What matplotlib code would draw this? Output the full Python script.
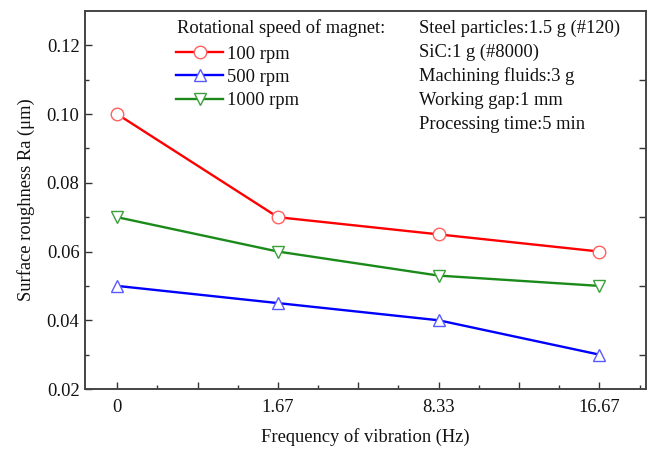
import matplotlib
matplotlib.use("Agg")
import matplotlib.pyplot as plt
from matplotlib.ticker import FixedLocator, NullFormatter

plt.rcParams['font.family'] = ['Liberation Serif', 'DejaVu Serif']

freq_labels = ["0", "1.67", "8.33", "16.67"]
ra_100 = [0.100, 0.070, 0.065, 0.060]
ra_500 = [0.050, 0.045, 0.040, 0.030]
ra_1000 = [0.070, 0.060, 0.053, 0.050]
series_names = ["100 rpm", "500 rpm", "1000 rpm"]
legend_title = "Rotational speed of magnet:"
conditions = ["Steel particles:1.5 g (#120)", "SiC:1 g (#8000)", "Machining fluids:3 g",
              "Working gap:1 mm", "Processing time:5 min"]

FS = 13.3

fig = plt.figure(figsize=(6.51, 4.49), dpi=100)
ax = fig.add_axes([85/651, 1-389/449, (646-85)/651, (389-11)/449])

x = list(range(len(freq_labels)))
styles = [("#ff0000", "#ff6060", "o"), ("#0000ff", "#5a5aff", "^"), ("#1a8a1a", "#3aa03a", "v")]
handles = []
for vals, name, (lc, mc, mk) in zip([ra_100, ra_500, ra_1000], series_names, styles):
    h, = ax.plot(x, vals, color=lc, lw=1.7, marker=mk, markersize=9,
                 markerfacecolor="white", markeredgecolor=mc, markeredgewidth=1.0, label=name)
    handles.append(h)

ax.set_xlim(-0.2, 3.29)
ax.set_ylim(0.02, 0.13)

xmaj = [i * 0.5 for i in range(7)]
ax.xaxis.set_major_locator(FixedLocator(xmaj))
ax.set_xticklabels([freq_labels[int(v)] if float(v).is_integer() else "" for v in xmaj])
ax.xaxis.set_minor_locator(FixedLocator([0.25 + 0.5 * i for i in range(7)]))

ax.yaxis.set_major_locator(FixedLocator([0.02, 0.04, 0.06, 0.08, 0.10, 0.12]))
ax.set_yticklabels(["0.02", "0.04", "0.06", "0.08", "0.10", "0.12"])
ax.yaxis.set_minor_locator(FixedLocator([0.03, 0.05, 0.07, 0.09, 0.11]))

ax.tick_params(axis='both', which='major', direction='in', length=5, width=1, labelsize=FS, colors='#333333', labelcolor='#111111')
ax.tick_params(axis='both', which='minor', direction='in', length=3, width=1, colors='#333333')
ax.tick_params(axis='x', which='major', pad=7)
ax.tick_params(axis='y', which='major', pad=4)

axr = ax.twinx()
axr.set_ylim(ax.get_ylim())
axr.yaxis.set_major_locator(FixedLocator([0.03, 0.05, 0.07, 0.09, 0.11]))
axr.yaxis.set_major_formatter(NullFormatter())
axr.tick_params(axis='y', which='major', direction='in', length=5, width=1, colors='#333333')

for a in (ax, axr):
    for s in a.spines.values():
        s.set_color('#444444')
        s.set_linewidth(1.2)

ax.set_xlabel("Frequency of vibration (Hz)", fontsize=FS, labelpad=9, color='#111111')
ax.set_ylabel("Surface roughness Ra (μm)", fontsize=FS, labelpad=8, color='#111111')

ax.text(0.164, 0.955, legend_title, transform=ax.transAxes, fontsize=FS,
        va='center', ha='left', color='#111111')
leg = ax.legend(handles=handles, loc='upper left',
                bbox_to_anchor=(0.14, 0.942), frameon=False, fontsize=FS,
                handlelength=2.5, handletextpad=0.25,
                labelspacing=0.33, borderaxespad=0.3)
for t in leg.get_texts():
    t.set_color('#111111')

for i, t in enumerate(conditions):
    ax.text(0.595, 0.955 - i * 0.0635, t, transform=ax.transAxes, fontsize=FS,
            va='center', ha='left', color='#111111')

fig.savefig("out.png", dpi=100, facecolor='white')
